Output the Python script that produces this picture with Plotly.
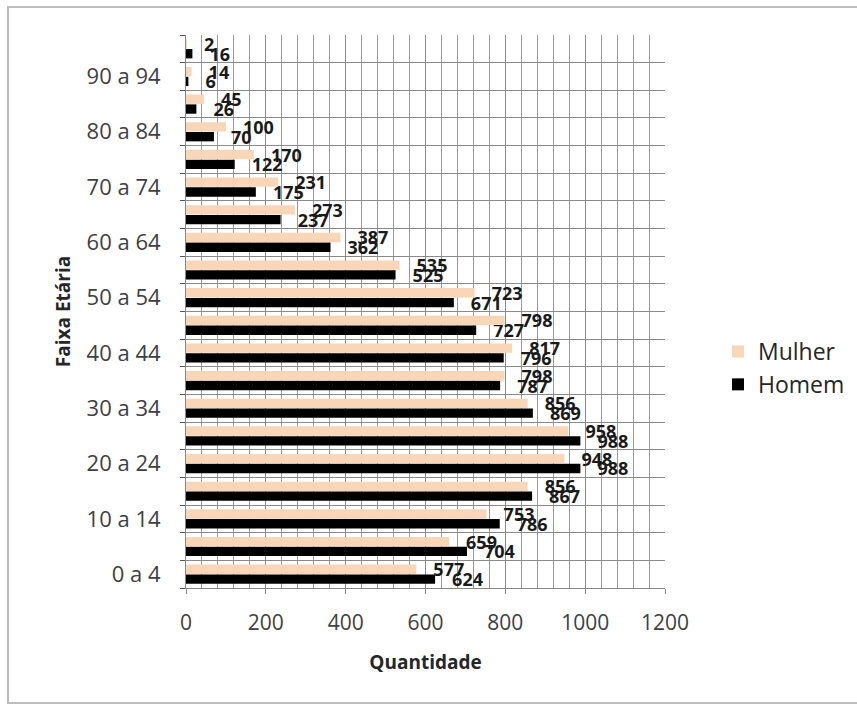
import plotly.graph_objects as go

categories = ["0 a 4", "5 a 9", "10 a 14", "15 a 19", "20 a 24", "25 a 29", "30 a 34",
              "35 a 39", "40 a 44", "45 a 49", "50 a 54", "55 a 59", "60 a 64", "65 a 69",
              "70 a 74", "75 a 79", "80 a 84", "85 a 89", "90 a 94", "95 e mais"]
mulher = [577, 659, 753, 856, 948, 958, 856, 798, 817, 798, 723, 535, 387, 273, 231, 170, 100, 45, 14, 2]
homem = [624, 704, 786, 867, 988, 988, 869, 787, 796, 727, 671, 525, 362, 237, 175, 122, 70, 26, 6, 16]
x_ticks = [0, 200, 400, 600, 800, 1000, 1200]

idx = list(range(len(categories)))
shown = idx[::2]

label_font = dict(family="Open Sans", size=18, color="#1a1a1a", weight="bold")

fig = go.Figure()
fig.add_trace(go.Bar(
    y=idx, x=homem, orientation="h", name="Homem",
    marker=dict(color="#000000", line=dict(width=0)),
    texttemplate="   %{x}", textposition="outside", constraintext="none",
    cliponaxis=False, textfont=label_font,
))
fig.add_trace(go.Bar(
    y=idx, x=mulher, orientation="h", name="Mulher",
    marker=dict(color="#F8D6B7", line=dict(width=0)),
    texttemplate="   %{x}", textposition="outside", constraintext="none",
    cliponaxis=False, textfont=label_font,
))

L, R, T, B = 186, 192, 35, 118
W, H = 857, 706
pw, ph = W - L - R, H - T - B

def px2x(p):
    return (p - L) / pw

def py2y(p):
    return (H - B - p) / ph

fig.update_layout(
    width=W, height=H,
    margin=dict(l=L, r=R, t=T, b=B, autoexpand=False),
    paper_bgcolor="white", plot_bgcolor="white",
    barmode="group", bargap=0.29, bargroupgap=0.05,
    font=dict(family="Open Sans", color="#404040", size=21),
    showlegend=True,
    legend=dict(x=px2x(718), y=py2y(368), xanchor="left", yanchor="middle",
                traceorder="reversed", font=dict(size=23, color="#262626"),
                itemwidth=30, tracegroupgap=0, bgcolor="rgba(0,0,0,0)"),
    xaxis=dict(range=[0, 1200], tickvals=x_ticks, ticks="outside", ticklen=5,
               tickcolor="#888", showline=True, linecolor="#888", linewidth=1,
               showgrid=True, gridcolor="#8a8a8a", gridwidth=1,
               minor=dict(dtick=40, tick0=0, showgrid=True, gridcolor="#9a9a9a", gridwidth=1),
               zeroline=False, ticklabelstandoff=11,
               tickfont=dict(size=21, color="#404040"),
               title=dict(text="<b>Quantidade</b>", font=dict(size=19, color="#262626"), standoff=20)),
    yaxis=dict(range=[-0.5, len(categories) - 0.5], tickvals=shown,
               ticktext=[categories[i] for i in shown], ticks="", showgrid=False,
               showline=True, linecolor="#888", linewidth=1, zeroline=False,
               minor=dict(dtick=1, tick0=0.5, showgrid=True, gridcolor="#8a8a8a", gridwidth=1,
                          ticks="outside", ticklen=5, tickcolor="#555"),
               tickfont=dict(size=22, color="#404040"), ticklabelstandoff=20,
               title=dict(text="<b>Faixa Etária</b>", font=dict(size=19, color="#262626"), standoff=10)),
    shapes=[dict(type="rect", xref="paper", yref="paper",
                 x0=px2x(8), x1=px2x(862), y0=py2y(703), y1=py2y(7),
                 line=dict(color="#bdbdbd", width=2), fillcolor="rgba(0,0,0,0)", layer="below")],
)

fig.write_html("out.html", config={"displayModeBar": False},
               post_script="document.body.style.margin='0';document.body.style.padding='0';")
